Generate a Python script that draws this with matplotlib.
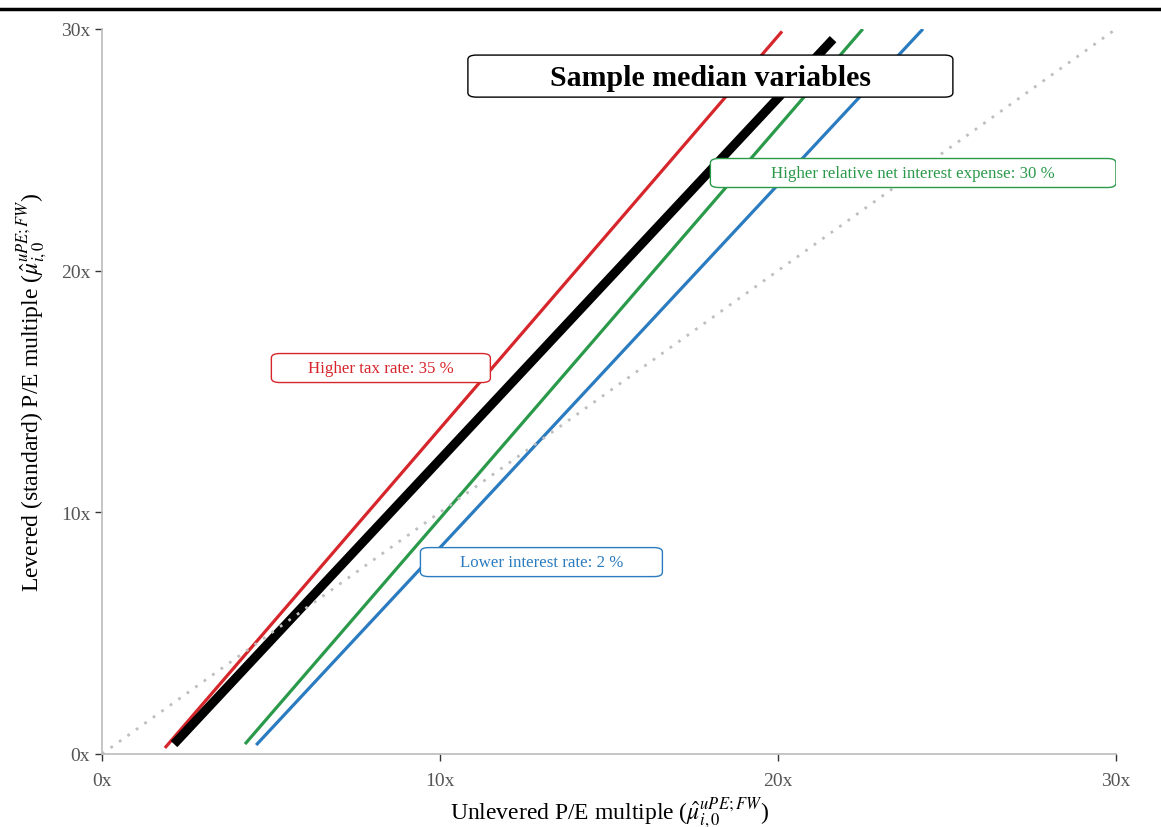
import matplotlib
matplotlib.use("Agg")
import matplotlib.pyplot as plt
from matplotlib.patches import FancyBboxPatch
from matplotlib.lines import Line2D

plt.rcParams["font.family"] = ["Liberation Serif", "DejaVu Serif"]
plt.rcParams["mathtext.fontset"] = "stix"

# scenario lines: unlevered multiple (x) -> levered multiple (y), endpoints
names = ["Higher tax rate", "Sample median", "Higher net interest", "Lower interest rate"]
x_start = [1.86, 2.13, 4.23, 4.56]
x_end = [20.12, 21.63, 22.51, 24.29]
y_start = [0.25, 0.41, 0.41, 0.37]
y_end = [29.90, 29.58, 30.00, 30.00]
colors = ["#d7262b", "#000000", "#2a9a4a", "#2a7bbf"]
widths = [2.3, 6.5, 2.3, 2.3]

# 45-degree reference line
ref_x = [0, 30]
ref_y = [0, 30]

# label boxes: text, centre, box width/height (data units)
lab_text = ["Higher tax rate: 35 %", "Lower interest rate: 2 %",
            "Higher relative net interest expense: 30 %"]
lab_x = [8.25, 13.0, 24.0]
lab_y = [15.97, 7.94, 24.04]
lab_w = [6.48, 7.16, 12.0]
lab_col = ["#d7262b", "#2a7bbf", "#2a9a4a"]

ticks = [0, 10, 20, 30]
tick_labels = ["0x", "10x", "20x", "30x"]

fig = plt.figure(figsize=(11.61, 8.28), dpi=100)
ax = fig.add_axes([0.0879, 0.0882, 0.9612 - 0.0879, 0.9638 - 0.0882])

for i in range(len(names)):
    ax.plot([x_start[i], x_end[i]], [y_start[i], y_end[i]], color=colors[i],
            lw=widths[i], solid_capstyle="butt", zorder=2)
ax.plot(ref_x, ref_y, color="#bfbfbf", lw=2, linestyle=(0, (1, 2.75)), zorder=3)

ax.set_xlim(0, 30)
ax.set_ylim(0, 30)
ax.set_xticks(ticks)
ax.set_xticklabels(tick_labels)
ax.set_yticks(ticks)
ax.set_yticklabels(tick_labels)
ax.tick_params(colors="#333333", labelcolor="#555555", labelsize=14, length=5, width=1)
ax.tick_params(axis="x", pad=8)
for s in ["top", "right"]:
    ax.spines[s].set_visible(False)
for s in ["left", "bottom"]:
    ax.spines[s].set_color("#bbbbbb")
    ax.spines[s].set_linewidth(1.2)

ax.set_xlabel(r"Unlevered P/E multiple ($\hat{\mu}_{i,0}^{uPE;FW}$)", fontsize=17, labelpad=4)
ax.set_ylabel(r"Levered (standard) P/E multiple ($\hat{\mu}_{i,0}^{uPE;FW}$)", fontsize=17, labelpad=8)

# rounded label boxes
for t, x, y, w, c in zip(lab_text, lab_x, lab_y, lab_w, lab_col):
    h = 1.2
    box = FancyBboxPatch((x - w / 2, y - h / 2), w, h,
                         boxstyle="round,pad=0,rounding_size=0.25",
                         mutation_aspect=24.17 / 33.8,
                         fc="white", ec=c, lw=1.0, zorder=4)
    ax.add_patch(box)
    ax.text(x, y, t, color=c, fontsize=12.2, ha="center", va="center", zorder=5)

# title box
tw, th = 14.35, 1.74
tx, ty = 18.0, 28.05
ax.add_patch(FancyBboxPatch((tx - tw / 2, ty - th / 2), tw, th,
                            boxstyle="round,pad=0,rounding_size=0.25",
                            mutation_aspect=24.17 / 33.8,
                            fc="white", ec="black", lw=1.0, zorder=4))
ax.text(tx, ty - 0.05, "Sample median variables", fontsize=21.5, fontweight="bold",
        ha="center", va="center", zorder=5)

# rule across the top of the page
fig.add_artist(Line2D([0, 1], [0.988, 0.988], color="black", lw=2.5,
                      transform=fig.transFigure))

fig.savefig("out.png", dpi=100)
